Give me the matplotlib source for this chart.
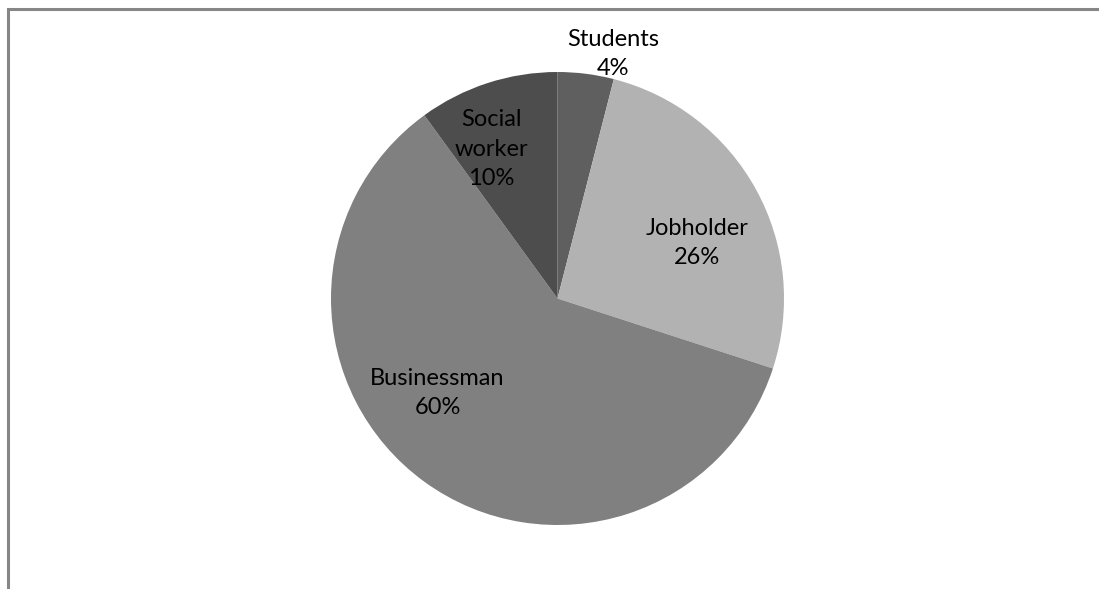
import matplotlib.pyplot as plt
from matplotlib.patches import Rectangle

# occupation shares (percent), drawn clockwise from 12 o'clock
labels = ["Students", "Jobholder", "Businessman", "Social\nworker"]
shares = [4, 26, 60, 10]
colors = ["#5f5f5f", "#b2b2b2", "#808080", "#4d4d4d"]

# where each label sits, in pie radius units
label_pos = [(0.247, 1.080), (0.618, 0.245), (-0.530, -0.417), (-0.291, 0.660)]

W, H = 1099, 589
fig = plt.figure(figsize=(W / 100, H / 100), dpi=100)

# chart frame, clipped at right and bottom
fig.patches.append(Rectangle((7.5 / W, -0.1), 1.2, (H - 9.5) / H + 0.1,
                             transform=fig.transFigure, fill=False,
                             edgecolor="#868686", linewidth=2.2))

cx, cy, r = 557.5, 298.5, 226.5
ax = fig.add_axes([(cx - r) / W, (H - cy - r) / H, 2 * r / W, 2 * r / H])
ax.pie(shares, colors=colors, startangle=90, counterclock=False,
       radius=1, wedgeprops=dict(linewidth=0))
ax.set_xlim(-1, 1)
ax.set_ylim(-1, 1)
ax.axis("off")

for lab, val, (x, y) in zip(labels, shares, label_pos):
    ax.text(x, y, f"{lab}\n{val}%", ha="center", va="center",
            fontsize=17, family="Lato", color="black", linespacing=1.5)

fig.savefig("out.png", dpi=100)
